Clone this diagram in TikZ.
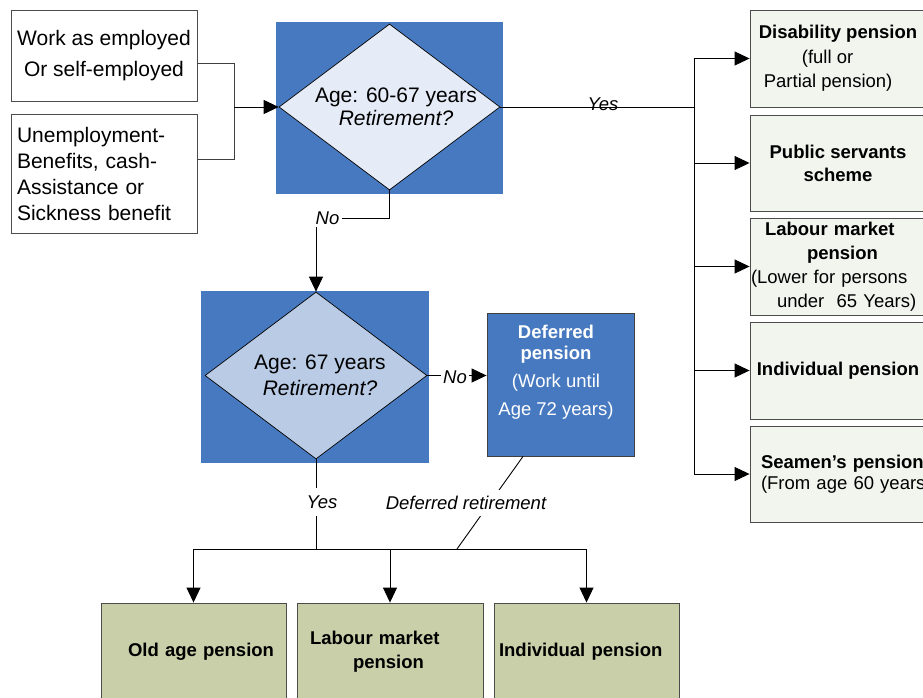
\documentclass[tikz,border=0pt]{standalone}
\usepackage{fontspec}
\setmainfont{Liberation Sans}
\usetikzlibrary{arrows.meta,positioning,shapes.geometric}

\definecolor{askblue}{RGB}{71,121,192}
\definecolor{askpale}{RGB}{230,236,247}
\definecolor{asklight}{RGB}{185,203,229}
\definecolor{offgrey}{RGB}{242,244,238}
\definecolor{olivebox}{RGB}{200,207,169}

\begin{document}
\begin{tikzpicture}[x=1pt,y=-1pt,>={Triangle[length=15pt,width=14pt]},line width=0.9pt,
  frame/.style={draw=black!70,inner sep=0pt},
  bluebg/.style={fill=askblue,inner sep=0pt},
  choice/.style={diamond,draw=black,line width=0.7pt,inner sep=0pt},
  sidebox/.style={frame,fill=offgrey,minimum width=176pt},
  endbox/.style={frame,fill=olivebox,minimum height=98pt,font=\bfseries\fontsize{18.5}{24}\selectfont},
  yesno/.style={font=\itshape\fontsize{18.5}{22}\selectfont,inner sep=2pt}]
\useasboundingbox (0,0) rectangle (923,698);
\clip (0,0) rectangle (923,698);

\node[frame,minimum width=186pt,minimum height=91pt,align=center,font=\fontsize{21}{31}\selectfont] (work) at (104,55.5) {Work as employed\\ Or self-employed};
\node[frame,minimum width=186pt,minimum height=119pt,text width=174pt,align=left,font=\fontsize{21}{26}\selectfont] (unemp) at (104,173.5) {Unemployment-\\ Benefits, cash-\\ Assistance or\\ Sickness benefit};

\node[bluebg,minimum width=227pt,minimum height=172pt] (q1bg) at (389.5,108) {};
\node[choice,fill=askpale,minimum width=221pt,minimum height=166pt] (q1) at (389.5,107) {};
\node[align=center,font=\fontsize{21}{23}\selectfont] (q1txt) at (396,106.5) {Age: 60-67 years\\ \textit{Retirement?}};

\node[bluebg,minimum width=228pt,minimum height=172pt] (q2bg) at (315,377) {};
\node[choice,fill=asklight,minimum width=222pt,minimum height=167pt] (q2) at (316,375.5) {};
\node[align=center,font=\fontsize{21}{26}\selectfont] (q2txt) at (320,375) {Age: 67 years\\ \textit{Retirement?}};

\node[fill=askblue,draw=black!75,inner sep=0pt,minimum width=147pt,minimum height=143pt] (defer) at (560.5,384.5) {};
\node[text=white,align=center,font=\fontsize{18.5}{21}\selectfont] (defertxt) at (556,372.5) {\textbf{Deferred}\\ \textbf{pension}\\[7pt] (Work until\\[7pt] Age 72 years)};

\node[sidebox,minimum height=97pt,align=left,font=\fontsize{18.5}{24.5}\selectfont] (r1) at (838,58.5) {\textbf{Disability pension}\\ \hspace*{43pt}(full or\\ \hspace*{5pt}Partial pension)};
\node[sidebox,minimum height=96pt,align=center,font=\bfseries\fontsize{18.5}{23}\selectfont] (r2) at (838,163) {Public servants\\ scheme};
\node[sidebox,minimum height=97pt,text width=174pt,align=left,font=\fontsize{18.5}{24}\selectfont] (r3) at (838,266.5) {\hspace*{14pt}\textbf{Labour market}\\ \hspace*{56pt}\textbf{pension}\\ (Lower for persons\\ \hspace*{26pt}under\ \ 65 Years)};
\node[sidebox,minimum height=97pt,font=\bfseries\fontsize{18.5}{24}\selectfont] (r4) at (838,370.5) {Individual pension};
\node[sidebox,minimum height=96pt,text width=154pt,align=left,font=\fontsize{18.5}{21}\selectfont] (r5) at (838,474) {\mbox{\textbf{Seamen’s pension}}\\ \mbox{(From age 60 years)}};

\node[endbox,minimum width=185pt,text width=161pt,align=right] (b1) at (193.5,652) {Old age pension};
\node[endbox,minimum width=186pt,text width=160pt,align=left] (b2) at (390,652) {Labour market\\ \hspace*{43pt}pension};
\node[endbox,minimum width=185pt,text width=175pt,align=left] (b3) at (586.5,652) {Individual pension};

\coordinate (join) at (234,107);
\draw[black!75] ([yshift=-7.5pt]work.east) -| (join);
\draw[black!75] ([yshift=14pt]unemp.east) -| (join);
\draw[->] (join) -- (q1.west);

\coordinate (bus) at (694,107);
\draw (q1.east) -- (bus);
\node[yesno] (yes1) at (603,104) {Yes};
\draw (bus |- r1.west) -- (bus |- r5.west);
\foreach \r in {r1,r2,r3,r4,r5}
  \draw[->] (bus |- \r.west) -- (\r.west);

\node[yesno] (no1) at (327.5,218) {No};
\draw (q1.south) |- (no1.east);
\draw[->] (no1.south -| q2.north) -- (q2.north);

\node[yesno] (no2) at (455,377) {No};
\draw (q2.east) -- (q2.east -| no2.west);
\draw[->] (no2.east |- q2.east) -- (q2.east -| defer.west);

\coordinate (bl) at (193,549);
\coordinate (dret) at (457,549);
\draw (q2.south) -- (q2.south |- bl);
\draw (b1.north |- bl) -- (b3.north |- bl);
\foreach \b in {b1,b2,b3}
  \draw[->] (\b.north |- bl) -- (\b.north);
\draw ([xshift=-37.5pt]defer.south) -- (dret);
\node[yesno,fill=white,inner xsep=3pt,inner ysep=8pt] (yes2) at (322,502) {Yes};
\node[yesno,fill=white,inner xsep=3pt,inner ysep=6pt] (dtxt) at (466,503) {Deferred retirement};
\end{tikzpicture}
\end{document}
